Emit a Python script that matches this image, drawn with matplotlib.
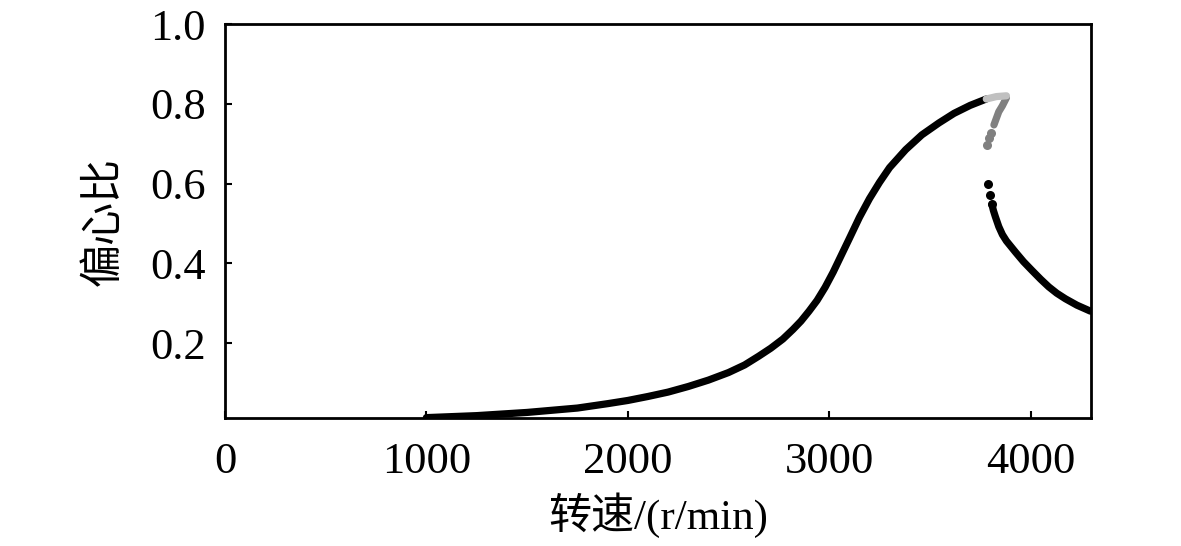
import matplotlib
matplotlib.use('Agg')
import matplotlib.pyplot as plt

plt.rcParams['font.family'] = ['Liberation Serif', 'Noto Sans CJK SC', 'DejaVu Sans']

# main rising branch (black, continuous)
rpm_up = [1000, 1250, 1500, 1750, 1900, 2000, 2100, 2200, 2300, 2400, 2500,
          2580, 2650, 2710, 2770, 2820, 2860, 2900, 2940, 2980, 3020, 3060,
          3100, 3150, 3200, 3250, 3300, 3380, 3460, 3545, 3620, 3700, 3780]
ecc_up = [0.013, 0.018, 0.026, 0.037, 0.048, 0.056, 0.066, 0.077, 0.091, 0.107,
          0.126, 0.145, 0.167, 0.187, 0.210, 0.234, 0.255, 0.280, 0.307, 0.340,
          0.378, 0.420, 0.462, 0.515, 0.562, 0.603, 0.640, 0.685, 0.722, 0.752,
          0.776, 0.796, 0.812]

# top of the fold (light grey)
rpm_top = [3780, 3830, 3880]
ecc_top = [0.812, 0.818, 0.820]

# unstable branch bending back (dark grey)
rpm_back = [3880, 3860, 3842, 3818]
ecc_back = [0.815, 0.795, 0.780, 0.747]
rpm_back_dots = [3801, 3792, 3784]
ecc_back_dots = [0.726, 0.715, 0.697]

# lower branch after the jump (black)
rpm_low_dots = [3788, 3798, 3808]
ecc_low_dots = [0.598, 0.570, 0.548]
rpm_low = [3808, 3815, 3825, 3842, 3860, 3880, 3925, 3965, 4007, 4050, 4090,
           4130, 4173, 4230, 4297]
ecc_low = [0.548, 0.533, 0.517, 0.492, 0.472, 0.456, 0.428, 0.404, 0.382,
           0.360, 0.341, 0.325, 0.311, 0.295, 0.280]

fig = plt.figure(figsize=(11.81, 5.46), dpi=100)
ax = fig.add_axes([0.1905, 0.2344, 0.7333, 0.7216])

lw = 5.2
ax.plot(rpm_up, ecc_up, color='black', lw=lw, solid_capstyle='round', solid_joinstyle='round')
ax.plot(rpm_back, ecc_back, color='#808080', lw=lw, solid_capstyle='round', solid_joinstyle='round')
ax.plot(rpm_back_dots, ecc_back_dots, 'o', color='#808080', ms=6.5, mec='none')
ax.plot(rpm_top, ecc_top, color='#c0c0c0', lw=lw, solid_capstyle='round', solid_joinstyle='round')
ax.plot(rpm_low, ecc_low, color='black', lw=lw, solid_capstyle='round', solid_joinstyle='round')
ax.plot(rpm_low_dots, ecc_low_dots, 'o', color='black', ms=6.5, mec='none')

ax.set_xlim(0, 4300)
ax.set_ylim(0.012, 1.0)
ax.set_xticks([0, 1000, 2000, 3000, 4000])
ax.set_yticks([0.2, 0.4, 0.6, 0.8, 1.0])
ax.set_yticklabels(['0.2', '0.4', '0.6', '0.8', '1.0'])

for s in ax.spines.values():
    s.set_linewidth(2.0)
ax.tick_params(direction='in', length=5, width=1.5, labelsize=32)
ax.tick_params(axis='x', pad=17)
ax.tick_params(axis='y', pad=14)

ax.set_xlabel('转速/(r/min)', fontsize=31, labelpad=8)
ax.set_ylabel('偏心比', fontsize=31, labelpad=18)

fig.savefig('out.png', dpi=100)
